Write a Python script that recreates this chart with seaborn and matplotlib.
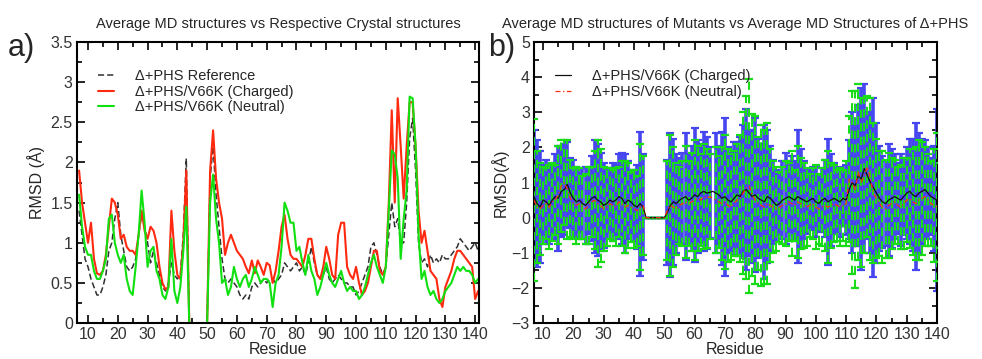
import numpy as np
import pandas as pd
import matplotlib
matplotlib.use("Agg")
import matplotlib.pyplot as plt
import seaborn as sns
from matplotlib.ticker import MultipleLocator, FormatStrFormatter

# ---- panel a: RMSD of average MD structures vs crystal structures ----
ref_rmsd = [
    1.4, 1.1, 0.8, 0.7, 0.55, 0.45, 0.35, 0.35, 0.45, 0.6,
    0.9, 1.0, 1.3, 1.5, 1.1, 0.9, 0.7, 0.65, 0.7, 0.8,
    1.1, 1.35, 1.2, 1.0, 0.75, 0.9, 0.75, 0.6, 0.45, 0.4,
    0.5, 0.75, 0.6, 0.55, 0.6, 1.1, 2.05, 0, 0, 0,
    0, 0, 0, 0, 1.8, 2.2, 1.6, 1.2, 0.8, 0.55,
    0.5, 0.55, 0.5, 0.45, 0.35, 0.3, 0.35, 0.3, 0.45, 0.5,
    0.45, 0.5, 0.55, 0.5, 0.55, 0.55, 0.5, 0.55, 0.6, 0.75,
    0.7, 0.65, 0.7, 0.75, 0.65, 0.7, 0.6, 0.75, 0.95, 0.75,
    0.6, 0.55, 0.6, 0.7, 0.55, 0.5, 0.55, 0.6, 0.55, 0.5,
    0.5, 0.45, 0.45, 0.35, 0.4, 0.5, 0.6, 0.7, 0.95, 1.0,
    0.85, 0.7, 0.6, 0.7, 1.1, 1.5, 1.2, 1.3, 1.0, 1.0,
    1.5, 2.3, 2.55, 1.9, 1.0, 0.75, 0.8, 0.7, 0.85, 0.75,
    0.8, 0.75, 0.85, 0.8, 0.8, 0.85, 0.9, 0.95, 1.05, 1.0,
    0.95, 0.9, 0.95, 1.0, 0.9,
]
charged_rmsd = [
    1.9, 1.5, 1.25, 1.0, 1.25, 0.8, 0.62, 0.6, 0.65, 0.85,
    1.2, 1.55, 1.5, 1.35, 1.05, 1.1, 0.95, 0.9, 0.9, 0.85,
    1.1, 1.4, 1.15, 1.05, 1.2, 1.15, 1.0, 0.7, 0.5, 0.42,
    0.45, 1.4, 0.9, 0.6, 0.55, 1.0, 1.9, 0, 0, 0,
    0, 0, 0, 0, 1.9, 2.4, 1.8, 1.5, 1.3, 0.85,
    1.0, 1.1, 1.0, 0.9, 0.85, 0.8, 0.7, 0.62, 0.78, 0.62,
    0.78, 0.7, 0.6, 0.75, 0.72, 0.5, 0.65, 0.9, 1.2, 1.35,
    1.05, 0.85, 0.8, 0.8, 0.75, 0.7, 0.85, 1.05, 1.05, 0.8,
    0.6, 0.55, 0.7, 0.95, 0.8, 0.6, 0.55, 1.1, 1.25, 1.25,
    0.7, 0.6, 0.55, 0.7, 0.5, 0.35, 0.4, 0.5, 0.7, 0.9,
    0.9, 0.65, 0.6, 0.7, 1.5, 2.65, 1.5, 2.8, 2.2, 1.55,
    2.2, 2.75, 2.75, 2.2, 1.4, 1.0, 1.15, 0.9, 0.65, 0.6,
    0.55, 0.3, 0.2, 0.45, 0.55, 0.65, 0.8, 0.9, 0.9, 0.85,
    0.8, 0.75, 0.7, 0.3, 0.4,
]
neutral_rmsd = [
    1.6, 1.2, 0.95, 0.85, 0.85, 0.65, 0.55, 0.55, 0.65, 0.8,
    1.3, 1.35, 1.0, 0.85, 0.75, 0.85, 0.55, 0.4, 0.35, 0.7,
    1.1, 1.65, 1.25, 0.7, 0.9, 0.95, 0.65, 0.55, 0.35, 0.3,
    0.45, 1.05, 0.4, 0.25, 0.45, 0.9, 1.45, 0, 0, 0,
    0, 0, 0, 0, 1.5, 1.85, 1.3, 1.0, 0.5, 0.55,
    0.35, 0.45, 0.7, 0.55, 0.45, 0.55, 0.6, 0.45, 0.55, 0.7,
    0.6, 0.5, 0.55, 0.55, 0.5, 0.2, 0.5, 0.6, 0.95, 1.5,
    1.4, 1.25, 1.25, 0.9, 0.95, 0.75, 0.6, 0.85, 0.65, 0.55,
    0.35, 0.45, 0.6, 0.75, 0.6, 0.5, 0.45, 0.55, 0.65, 0.5,
    0.4, 0.45, 0.4, 0.4, 0.3, 0.35, 0.45, 0.6, 0.75, 0.85,
    0.7, 0.6, 0.5, 0.7, 1.4, 2.15, 2.1, 1.8, 0.8, 1.3,
    1.65, 2.82, 2.8, 2.2, 1.1, 0.55, 0.65, 0.45, 0.35, 0.4,
    0.3, 0.25, 0.3, 0.4, 0.45, 0.5, 0.6, 0.7, 0.65, 0.7,
    0.65, 0.65, 0.6, 0.5, 0.55,
]

# ---- panel b: mutants vs average MD structure of D+PHS (mean +/- sd) ----
nan = np.nan
mean_charged = [
    0.6, 0.4, 0.3, 0.5, 0.45, 0.35, 0.5, 0.6, 0.55, 0.75,
    0.8, 0.95, 0.7, 0.55, 0.45, 0.5, 0.4, 0.35, 0.45, 0.55,
    0.6, 0.5, 0.45, 0.35, 0.4, 0.5, 0.45, 0.5, 0.6, 0.55,
    0.4, 0.5, 0.45, 0.35, 0.3, 0.4, 0.3, 0, 0, 0,
    0, 0, 0, 0, 0.15, 0.35, 0.45, 0.4, 0.5, 0.55,
    0.6, 0.5, 0.55, 0.65, 0.6, 0.7, 0.75, 0.7, 0.72, 0.75,
    0.7, 0.65, 0.55, 0.6, 0.5, 0.45, 0.55, 0.65, 0.6, 0.75,
    0.8, 0.7, 0.6, 0.65, 0.55, 0.5, 0.45, 0.6, 0.55, 0.45,
    0.35, 0.4, 0.5, 0.55, 0.6, 0.55, 0.5, 0.6, 0.55, 0.5,
    0.45, 0.5, 0.55, 0.45, 0.4, 0.5, 0.55, 0.45, 0.5, 0.55,
    0.5, 0.45, 0.55, 0.5, 0.8, 1.0, 0.9, 1.2, 1.1, 1.4,
    1.2, 1.0, 0.85, 0.7, 0.55, 0.45, 0.4, 0.5, 0.55, 0.6,
    0.55, 0.5, 0.6, 0.7, 0.75, 0.65, 0.6, 0.7, 0.75, 0.8,
    0.7, 0.6, 0.55, 0.5, 0.45,
]
sd_charged = [
    1.9, 1.8, 1.6, 1.0, 1.2, 1.1, 1.0, 1.2, 1.5, 1.3,
    1.3, 1.2, 1.0, 1.1, 1.0, 0.9, 1.0, 1.1, 0.9, 1.2,
    1.6, 1.6, 1.4, 1.2, 1.0, 0.9, 1.1, 1.0, 1.2, 1.3,
    1.4, 1.1, 0.9, 1.0, 1.2, 2.05, 1.5, 0, 0, 0,
    0, 0, 0, 0, 1.5, 2.05, 1.8, 1.4, 1.2, 1.3,
    1.8, 1.3, 1.5, 1.9, 1.6, 1.4, 1.7, 1.6, 1.3, nan,
    1.7, 1.4, 1.9, 2.25, 1.5, 1.4, 1.6, 1.5, 1.7, 1.9,
    2.3, 1.8, 1.9, 2.2, 1.7, 1.6, 2.2, 1.9, 1.5, 1.2,
    1.0, 0.9, 1.1, 1.3, 1.0, 1.2, 1.1, 1.9, 1.4, 1.1,
    0.9, 0.8, 0.9, 1.0, 0.8, 0.9, 1.1, 1.8, 1.3, 1.0,
    0.9, 1.0, 0.8, 1.0, 1.4, 2.0, 1.7, 2.0, 2.6, 2.4,
    1.8, 2.0, 2.55, 2.0, 1.5, 1.3, 1.2, 1.6, 1.4, 1.2,
    1.0, 1.3, 1.1, 1.3, 1.5, 1.6, 2.1, 1.7, 1.5, 1.4,
    1.3, 1.1, 1.5, 2.6, 1.3,
]
mean_neutral = [
    0.5, 0.3, 0.25, 0.35, 0.4, 0.3, 0.45, 0.5, 0.65, 0.9,
    1.0, 0.8, 0.55, 0.4, 0.35, 0.4, 0.3, 0.25, 0.35, 0.45,
    0.5, 0.4, 0.35, 0.25, 0.3, 0.4, 0.35, 0.3, 0.45, 0.4,
    0.3, 0.35, 0.3, 0.25, 0.2, 0.3, 0.35, 0, 0, 0,
    0, 0, 0, 0, 0.2, 0.35, 0.3, 0.25, 0.35, 0.4,
    0.45, 0.4, 0.45, 0.5, 0.55, 0.5, 0.6, 0.55, 0.6, 0.55,
    0.5, 0.45, 0.4, 0.45, 0.35, 0.3, 0.4, 0.5, 0.55, 0.7,
    0.85, 0.9, 0.65, 0.5, 0.4, 0.35, 0.3, 0.4, 0.35, 0.3,
    0.25, 0.3, 0.35, 0.4, 0.45, 0.4, 0.35, 0.45, 0.4, 0.35,
    0.3, 0.35, 0.4, 0.3, 0.25, 0.3, 0.35, 0.3, 0.35, 0.4,
    0.35, 0.3, 0.35, 0.4, 1.1, 1.0, 0.8, 1.3, 1.0, 1.2,
    1.45, 1.1, 0.7, 0.55, 0.4, 0.3, 0.25, 0.35, 0.4, 0.45,
    0.35, 0.3, 0.4, 0.5, 0.55, 0.45, 0.4, 0.5, 0.55, 0.6,
    0.5, 0.4, 0.35, 0.3, 0.35,
]
sd_neutral = [
    2.3, 1.6, 1.3, 1.1, 1.0, 1.2, 1.1, 1.0, 1.4, 1.3,
    1.2, 1.4, 1.1, 1.0, 1.1, 1.0, 0.9, 1.0, 1.1, 1.0,
    1.4, 1.8, 1.6, 1.2, 1.1, 1.0, 1.0, 1.1, 1.0, 1.2,
    1.3, 1.2, 1.0, 1.1, 1.0, 1.8, 1.4, 0, 0, 0,
    0, 0, 0, 0, 1.4, 2.0, 1.7, 1.3, 1.1, 1.2,
    1.6, 1.2, 1.4, 1.7, 1.5, 1.3, 1.5, 1.4, 1.2, nan,
    1.5, 1.3, 1.6, 1.9, 1.6, 1.5, 1.5, 1.6, 1.8, 2.3,
    2.6, 3.05, 2.3, 2.4, 1.9, 2.3, 2.2, 2.3, 1.6, 1.3,
    1.2, 1.0, 1.1, 1.2, 1.1, 1.5, 1.0, 1.6, 1.3, 1.2,
    1.1, 0.9, 1.0, 1.2, 1.0, 1.1, 1.3, 1.6, 1.2, 1.1,
    1.0, 1.1, 1.0, 1.2, 1.8, 2.6, 2.8, 2.5, 2.4, 2.2,
    2.0, 2.3, 2.0, 1.7, 1.5, 1.6, 1.4, 1.5, 1.3, 1.2,
    1.1, 1.2, 1.3, 1.2, 1.4, 1.5, 1.6, 1.7, 1.6, 1.4,
    1.3, 1.2, 1.6, 2.1, 1.2,
]

residues = list(range(7, 7 + len(ref_rmsd)))

sns.set_style("ticks")
plt.rcParams["font.family"] = ["Liberation Sans", "DejaVu Sans"]

fig = plt.figure(figsize=(9.82, 3.59), dpi=100)
ax1 = fig.add_axes([0.0784, 0.100, 0.4094, 0.783])
ax2 = fig.add_axes([0.5438, 0.100, 0.4104, 0.783])

# panel a
df_a = pd.DataFrame({"Residue": residues, "ref": ref_rmsd,
                     "charged": charged_rmsd, "neutral": neutral_rmsd})
sns.lineplot(data=df_a, x="Residue", y="ref", ax=ax1, color="#303030",
             linewidth=1.1, linestyle=(0, (4, 2)), label="\u0394+PHS Reference")
sns.lineplot(data=df_a, x="Residue", y="charged", ax=ax1, color="#ff2a10",
             linewidth=1.5, label="\u0394+PHS/V66K (Charged)")
sns.lineplot(data=df_a, x="Residue", y="neutral", ax=ax1, color="#10e010",
             linewidth=1.5, label="\u0394+PHS/V66K (Neutral)")
ax1.set_xlim(6.3, 141.3)
ax1.set_ylim(0, 3.5)
ax1.yaxis.set_major_locator(MultipleLocator(0.5))
ax1.yaxis.set_minor_locator(MultipleLocator(0.25))
ax1.yaxis.set_major_formatter(FormatStrFormatter("%g"))
ax1.set_ylabel("RMSD (\u00c5)", fontsize=11.5)
ax1.set_title("Average MD structures vs Respective Crystal structures",
              fontsize=10.5, pad=10)
ax1.legend(loc="upper left", bbox_to_anchor=(0.02, 0.95), frameon=False,
           fontsize=10.5, handlelength=1.1, handletextpad=1.4,
           labelspacing=0.1)

# panel b
df_b = pd.DataFrame({"Residue": residues, "mc": mean_charged, "sc": sd_charged,
                     "mn": mean_neutral, "sn": sd_neutral})
ax2.errorbar(df_b["Residue"], df_b["mc"], yerr=df_b["sc"], fmt="none",
             ecolor="#4646f0", elinewidth=2.6, capsize=3.2, capthick=1.6,
             zorder=2)
eb = ax2.errorbar(df_b["Residue"], df_b["mn"], yerr=df_b["sn"], fmt="none",
                  ecolor="#18dc18", elinewidth=1.5, capsize=3.2, capthick=1.6,
                  zorder=3)
eb[2][0].set_linestyle((0, (4, 2.5)))
sns.lineplot(data=df_b, x="Residue", y="mc", ax=ax2, color="#101010",
             linewidth=0.9, label="\u0394+PHS/V66K (Charged)", zorder=4)
sns.lineplot(data=df_b, x="Residue", y="mn", ax=ax2, color="#ff3010",
             linewidth=0.9, linestyle=(0, (4, 2, 1, 2)),
             label="\u0394+PHS/V66K (Neutral)", zorder=5)
ax2.set_xlim(7, 140)
ax2.set_ylim(-3, 5)
ax2.yaxis.set_major_locator(MultipleLocator(1))
ax2.yaxis.set_minor_locator(MultipleLocator(0.5))
ax2.set_ylabel("RMSD(\u00c5)", fontsize=11.5, labelpad=2)
ax2.set_title("Average MD structures of Mutants vs Average MD Structures of \u0394+PHS",
              fontsize=10.5, pad=10)
ax2.legend(loc="upper left", bbox_to_anchor=(0.02, 0.95), frameon=False,
           fontsize=10.5, handlelength=1.1, handletextpad=1.4,
           labelspacing=0.1)

for ax in (ax1, ax2):
    ax.set_xlabel("Residue", fontsize=11.5, labelpad=0)
    ax.xaxis.set_major_locator(MultipleLocator(10))
    ax.xaxis.set_minor_locator(MultipleLocator(5))
    ax.tick_params(which="both", direction="in", top=True, right=True,
                   width=1.2, colors="black", labelcolor="#333333")
    ax.tick_params(which="major", length=6, labelsize=11.5, pad=3)
    ax.tick_params(which="minor", length=3.5)
    for sp in ax.spines.values():
        sp.set_linewidth(1.5)
        sp.set_color("black")

fig.text(0.008, 0.845, "a)", fontsize=22)
fig.text(0.497, 0.845, "b)", fontsize=22)

fig.savefig("out.png", dpi=100)
